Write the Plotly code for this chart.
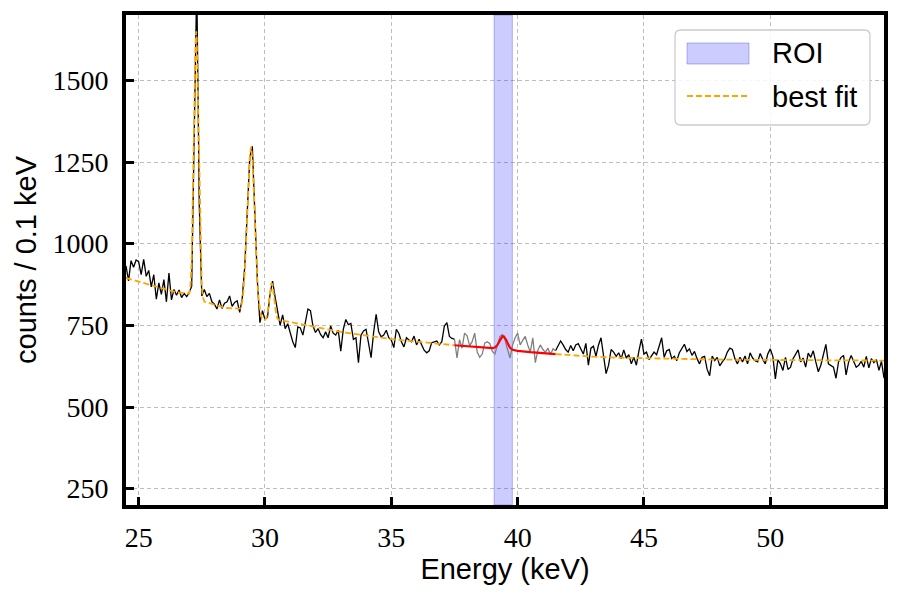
import numpy as np
import plotly.graph_objects as go

# ---- data -------------------------------------------------------------
e_start = 24.5          # first bin centre (keV)
bin_width = 0.1         # keV per bin

counts = [
    932, 886, 948, 928, 950,
    945, 905, 952, 900, 918, 868, 905, 830, 880, 845,
    890, 822, 910, 828, 860, 842, 858, 835, 848, 838,
    850, 870, 1290, 1800, 1120, 840, 860, 838, 848, 822,
    815, 800, 828, 802, 818, 822, 840, 808, 820, 825,
    790, 832, 930, 1105, 1265, 1298, 1105, 885, 758, 795,
    768, 775, 845, 885, 838, 790, 750, 782, 740, 755,
    725, 700, 682, 745, 742, 720, 760, 800, 795, 748,
    728, 740, 722, 712, 730, 712, 748, 726, 720, 735,
    671, 738, 768, 752, 756, 707, 712, 636, 720, 733,
    738, 700, 651, 728, 784, 730, 715, 720, 735, 712,
    705, 682, 738, 725, 700, 684, 712, 705, 700, 717,
    690, 707, 692, 674, 666, 672, 697, 699, 702, 690,
    700, 748, 758, 716, 710, 708, 650, 706, 680, 726,
    718, 688, 700, 726, 668, 652, 662, 696, 700, 694,
    670, 662, 690, 716, 722, 706, 676, 650, 690, 712,
    726, 690, 704, 716, 690, 668, 712, 636, 674, 690,
    676, 668, 680, 660, 678, 672, 686, 702, 690, 676,
    668, 688, 672, 690, 694, 680, 662, 695, 628, 680,
    686, 655, 690, 712, 662, 602, 628, 676, 668, 655,
    666, 648, 675, 650, 660, 632, 652, 628, 672, 708,
    662, 668, 645, 656, 668, 660, 690, 712, 652, 672,
    676, 648, 655, 642, 666, 678, 692, 670, 678, 658,
    670, 648, 632, 652, 655, 615, 596, 656, 642, 652,
    626, 638, 648, 668, 680, 676, 648, 632, 652, 638,
    656, 632, 666, 650, 642, 638, 664, 646, 632, 662,
    678, 655, 586, 644, 632, 612, 652, 615, 622, 648,
    662, 675, 638, 650, 622, 665, 652, 672, 638, 608,
    628, 660, 692, 632, 628, 622, 588, 638, 652, 658,
    598, 638, 658, 642, 622, 628, 640, 622, 655, 620,
    648, 636, 645, 612, 640, 588,
]

# excluded (grey) window around the ROI
excl_lo, excl_hi = 37.5, 41.5
# region of interest
roi_lo, roi_hi = 39.07, 39.79

# best fit outside the excluded window (two pieces)
fit1_x = [24.5, 25.0, 25.5, 26.0, 26.5, 27.0, 27.05, 27.1, 27.15, 27.2, 27.25,
          27.28, 27.3, 27.35, 27.4, 27.45, 27.5, 27.55, 27.6, 28.0, 28.5, 29.0,
          29.05, 29.1, 29.15, 29.2, 29.25, 29.3, 29.35, 29.4, 29.45, 29.5,
          29.55, 29.6, 29.65, 29.7, 29.75, 29.8, 29.85, 29.9, 29.95, 30.0,
          30.05, 30.1, 30.15, 30.2, 30.25, 30.3, 30.35, 30.4, 30.45, 30.5,
          30.55, 31.0, 31.5, 32.0, 32.5, 33.0, 33.5, 34.0, 34.5, 35.0, 35.5,
          36.0, 36.5, 37.0, 37.5]
fit1_y = [895, 884, 873, 862, 851, 847, 871, 949, 1125, 1386, 1607,
          1650, 1628, 1430, 1163, 964, 867, 834, 823, 813, 803, 801,
          807, 823, 858, 915, 1000, 1092, 1190, 1265, 1296, 1262,
          1180, 1073, 968, 884, 828, 795, 778, 768, 766, 767,
          772, 786, 814, 852, 879, 875, 843, 806, 781, 770,
          767, 760, 752, 745, 737, 730, 724, 718, 713, 708, 704,
          700, 696, 692, 689]
fit2_x = [41.5, 42.0, 42.5, 43.0, 44.0, 45.0, 46.0, 47.0, 48.0, 50.0, 52.0, 54.5]
fit2_y = [662, 659, 656, 654, 651, 649, 647, 646, 645, 644, 643, 642]

# fit inside the excluded window (with ROI peak)
roi_fit_x = [37.5, 38.0, 38.5, 39.0, 39.1, 39.2, 39.3, 39.35, 39.4, 39.45, 39.5,
             39.55, 39.6, 39.7, 39.8, 40.0, 40.5, 41.0, 41.5]
roi_fit_y = [689, 686, 683, 680, 682, 690, 704, 711, 716, 716, 712,
             705, 696, 681, 675, 672, 668, 665, 662]

x_range = [24.5, 54.5]
y_range = [200, 1700]
x_ticks = [25, 30, 35, 40, 45, 50]
y_ticks = [250, 500, 750, 1000, 1250, 1500]

legend_labels = ["ROI", "best fit"]

# ---- figure -----------------------------------------------------------
energy = np.round(e_start + bin_width * np.arange(len(counts)), 1)
cnt = np.array(counts, dtype=float)

m_left = energy <= excl_lo + 1e-9
m_mid = (energy >= excl_lo - 1e-9) & (energy <= excl_hi + 1e-9)
m_right = energy >= excl_hi - 1e-9

serif = "Liberation Serif"
sans = "Liberation Sans"
roi_fill = "rgba(0,0,255,0.2)"
roi_edge = "rgba(60,60,230,0.35)"

fig = go.Figure()

fig.add_trace(go.Scatter(
    x=[roi_lo, roi_hi, roi_hi, roi_lo, roi_lo],
    y=[y_range[0], y_range[0], y_range[1], y_range[1], y_range[0]],
    mode="lines", fill="toself", fillcolor=roi_fill,
    line=dict(color=roi_edge, width=1),
    name=legend_labels[0], hoverinfo="skip", showlegend=False))

fig.add_trace(go.Scatter(x=energy[m_left], y=cnt[m_left], mode="lines",
                         line=dict(color="black", width=1.3), showlegend=False))
fig.add_trace(go.Scatter(x=energy[m_right], y=cnt[m_right], mode="lines",
                         line=dict(color="black", width=1.3), showlegend=False))
fig.add_trace(go.Scatter(x=energy[m_mid], y=cnt[m_mid], mode="lines",
                         line=dict(color="gray", width=1.3), showlegend=False))

fig.add_trace(go.Scatter(
    x=fit1_x + [None] + fit2_x, y=fit1_y + [None] + fit2_y,
    mode="lines", connectgaps=False,
    line=dict(color="orange", width=1.8, dash="6px,3px"), name=legend_labels[1],
    showlegend=False))

fig.add_trace(go.Scatter(x=roi_fit_x, y=roi_fit_y, mode="lines",
                         line=dict(color="red", width=2.2), showlegend=False))

axis_common = dict(
    showline=True, linecolor="black", linewidth=4, mirror=True,
    ticks="inside", ticklen=8, tickwidth=2.5, tickcolor="black",
    showgrid=True, gridcolor="#bdbdbd", griddash="4px,3px", gridwidth=1,
    zeroline=False, tickfont=dict(family=serif, size=28, color="black"),
)

fig.update_xaxes(range=x_range, tickvals=x_ticks, ticklabelstandoff=4,
                 title=dict(text="Energy (keV)", font=dict(family=sans, size=29, color="black"),
                            standoff=6),
                 **axis_common)
fig.update_yaxes(range=y_range, tickvals=y_ticks, ticklabelstandoff=8,
                 title=dict(text="counts / 0.1 keV", font=dict(family=sans, size=29, color="black"),
                            standoff=8),
                 **axis_common)

# ---- hand-built legend (paper coordinates of the plot area) ----------
def rounded_box(x0, y0, x1, y1, rx, ry):
    return (f"M {x0+rx},{y0} L {x1-rx},{y0} Q {x1},{y0} {x1},{y0+ry} "
            f"L {x1},{y1-ry} Q {x1},{y1} {x1-rx},{y1} L {x0+rx},{y1} "
            f"Q {x0},{y1} {x0},{y1-ry} L {x0},{y0+ry} Q {x0},{y0} {x0+rx},{y0} Z")

fig.add_shape(type="path", xref="paper", yref="paper",
              path=rounded_box(0.7243, 0.7755, 0.9815, 0.9694, 0.0075, 0.0115),
              fillcolor="rgba(255,255,255,0.85)", line=dict(color="#cccccc", width=1.3))
fig.add_shape(type="rect", xref="paper", yref="paper",
              x0=0.7401, x1=0.8219, y0=0.900, y1=0.9429,
              fillcolor=roi_fill, line=dict(color=roi_edge, width=1))
fig.add_shape(type="line", xref="paper", yref="paper",
              x0=0.7401, x1=0.8219, y0=0.8347, y1=0.8347,
              line=dict(color="orange", width=1.8, dash="6px,3px"))
for text, ypos in zip(legend_labels, [0.9215, 0.8335]):
    fig.add_annotation(text=text, xref="paper", yref="paper", x=0.8500, y=ypos,
                       xanchor="left", yanchor="middle", showarrow=False,
                       font=dict(family=sans, size=29, color="black"))

fig.update_layout(
    width=900, height=600,
    margin=dict(l=126, r=16, t=15, b=95),
    paper_bgcolor="white", plot_bgcolor="white",
    showlegend=False,
)

fig.write_html("out.html", config={"displayModeBar": False},
               post_script="document.body.style.margin='0px';")
